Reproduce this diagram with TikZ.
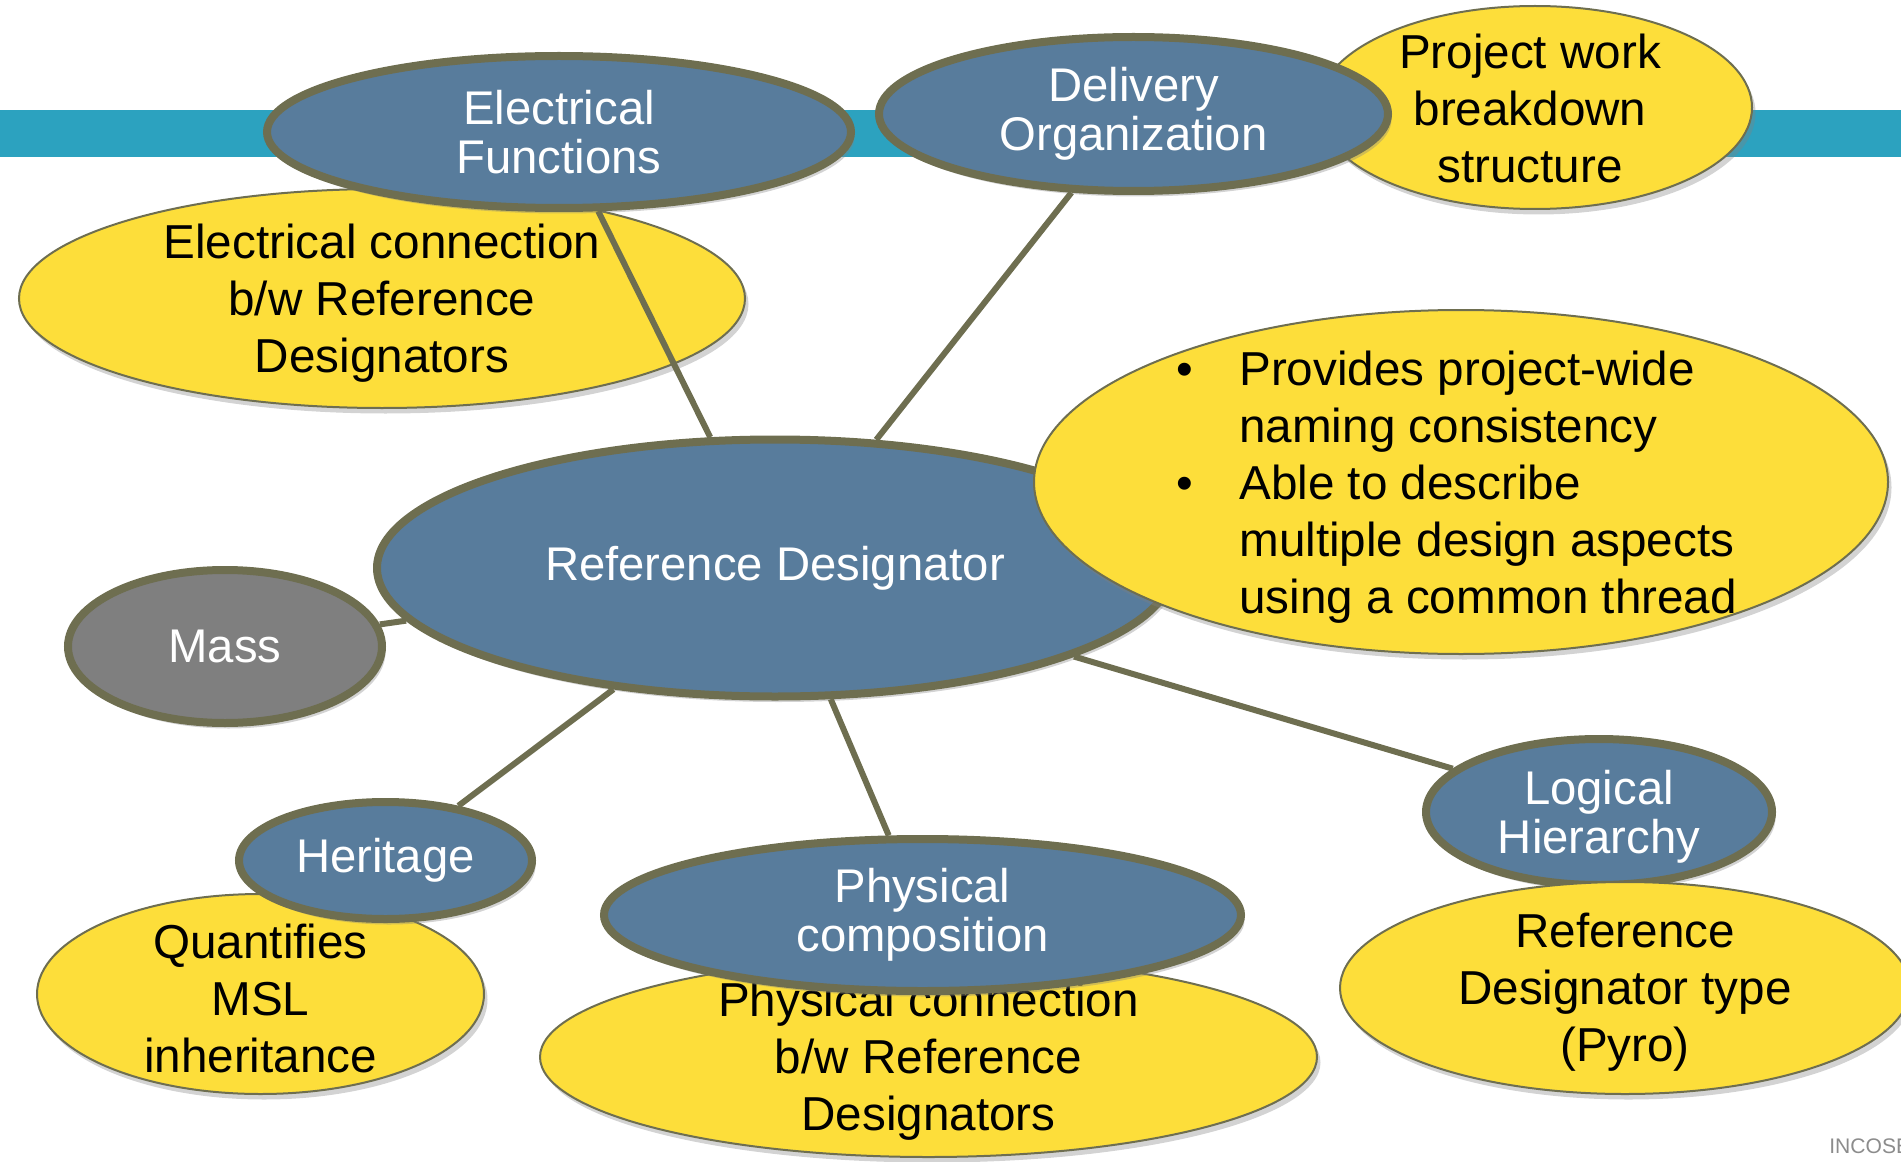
\documentclass[tikz,border=0pt]{standalone}
\usepackage{fontspec}
\setmainfont{Liberation Sans}
\usetikzlibrary{shapes.geometric,shadows}
\definecolor{bandteal}{HTML}{2CA2BF}
\definecolor{rdblue}{HTML}{587C9C}
\definecolor{rdolive}{HTML}{6E6E50}
\definecolor{noteyellow}{HTML}{FDDE3A}
\definecolor{massgray}{HTML}{7F7F7F}
\def\blobfont{\fontsize{26.9}{28}\selectfont}
\def\notefont{\fontsize{27.1}{32.4}\selectfont}

\begin{document}
\begin{tikzpicture}[
	blob/.style={ellipse, draw=rdolive, line width=0.16cm, fill=rdblue, inner sep=0pt, text=white, align=center, font=\blobfont,
		drop shadow={shadow xshift=0.07cm, shadow yshift=-0.11cm, opacity=0.35}},
	note/.style={ellipse, draw=rdolive, line width=0.04cm, fill=noteyellow, inner sep=0pt,
		drop shadow={shadow xshift=0.07cm, shadow yshift=-0.11cm, opacity=0.35}},
	notetxt/.style={align=center, font=\notefont, inner sep=0pt, yshift=-0.09cm},
	link/.style={draw=rdolive, line width=0.12cm}
]
		%%%%% START %%%%%
		\useasboundingbox (0, 0) rectangle (38.02, -23.24);
		\fill[bandteal] (0, -2.2) rectangle (38.02, -3.14);
		
		% notes under the blue ones
		\node[note, minimum width=14.52cm, minimum height=4.38cm] (elecconn) at (7.64, -5.97) {};
		\node[notetxt] (elecconn-t) at (elecconn) {Electrical connection\\b/w Reference\\Designators};
		\node[note, minimum width=8.68cm, minimum height=4.06cm] (pwbs) at (30.7, -2.15) {};
		\node[notetxt] (pwbs-t) at (30.6, -2.08) {Project work\\breakdown\\structure};
		\node[note, minimum width=8.94cm, minimum height=4.0cm] (quant) at (5.21, -19.88) {};
		\node[notetxt] (quant-t) at (quant) {Quantifies\\MSL\\inheritance};
		\node[note, minimum width=15.54cm, minimum height=4.0cm] (physconn) at (18.57, -21.14) {};
		\node[notetxt] (physconn-t) at (physconn) {Physical connection\\b/w Reference\\Designators};
		
		% blue ones
		\node[blob, minimum width=11.68cm, minimum height=3.04cm] (elecfn) at (11.18, -2.64) {Electrical\\Functions};
		\node[blob, minimum width=10.18cm, minimum height=3.08cm] (deliv) at (22.67, -2.28) {Delivery\\Organization};
		\node[blob, minimum width=15.92cm, minimum height=5.14cm] (refdes) at (15.5, -11.36) {Reference Designator};
		\node[blob, fill=massgray, minimum width=6.28cm, minimum height=3.06cm] (mass) at (4.5, -12.93) {Mass};
		\node[blob, minimum width=5.86cm, minimum height=2.34cm] (herit) at (7.71, -17.21) {Heritage};
		\node[blob, minimum width=12.74cm, minimum height=3.04cm] (physcomp) at (18.45, -18.3) {Physical\\composition};
		\node[blob, text depth=0pt, minimum width=6.92cm, minimum height=2.92cm] (logic) at (31.98, -16.24) {Logical\\Hierarchy};
		
		\draw[link] (refdes) -- (elecfn);
		\draw[link] (refdes) -- (deliv);
		\draw[link] (refdes) -- (mass);
		\draw[link] (refdes) -- (herit);
		\draw[link] (refdes) -- (physcomp);
		\draw[link] (refdes) -- (logic);
		
		% notes on top
		\node[note, minimum width=17.08cm, minimum height=6.88cm] (benefits) at (29.22, -9.64) {};
		\node[notetxt, align=left, anchor=west] (benefits-t) at (23.52, -9.65) {\makebox[1.26cm][l]{\textbullet}Provides project-wide\\\hspace*{1.26cm}naming consistency\\\makebox[1.26cm][l]{\textbullet}Able to describe\\\hspace*{1.26cm}multiple design aspects\\\hspace*{1.26cm}using a common thread};
		\node[note, minimum width=11.4cm, minimum height=4.24cm] (rdtype) at (32.5, -19.76) {};
		\node[notetxt] (rdtype-t) at (rdtype) {Reference\\Designator type\\(Pyro)};
		
		\node[anchor=west, text=black!45, font=\fontsize{12}{14}\selectfont, inner sep=0pt] (incose) at (36.58, -22.92) {INCOSE};
		%%%%% END %%%%%
\end{tikzpicture}
\end{document}
